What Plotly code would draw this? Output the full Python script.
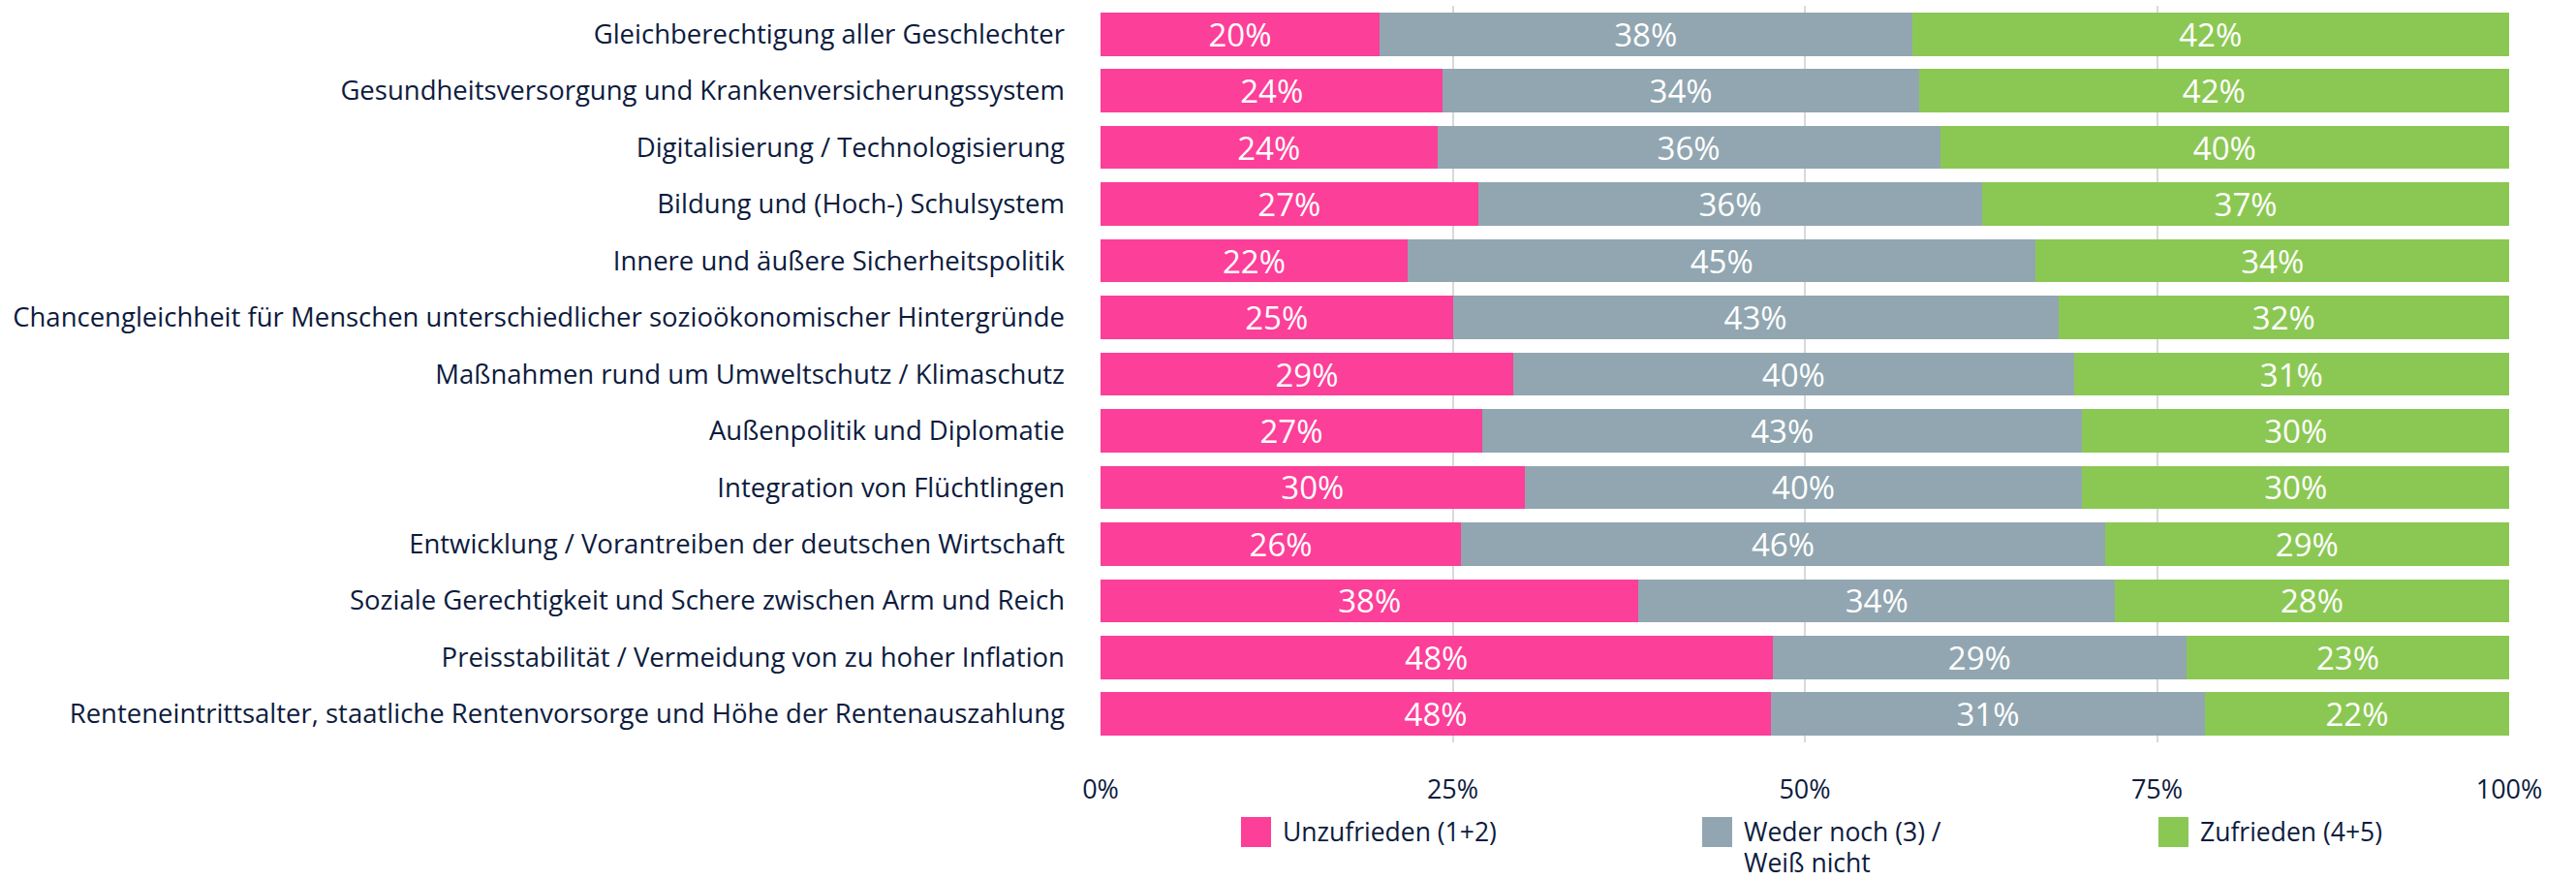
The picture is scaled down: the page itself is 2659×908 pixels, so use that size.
import plotly.graph_objects as go

categories = [
    "Gleichberechtigung aller Geschlechter",
    "Gesundheitsversorgung und Krankenversicherungssystem",
    "Digitalisierung / Technologisierung",
    "Bildung und (Hoch-) Schulsystem",
    "Innere und äußere Sicherheitspolitik",
    "Chancengleichheit für Menschen unterschiedlicher sozioökonomischer Hintergründe",
    "Maßnahmen rund um Umweltschutz / Klimaschutz",
    "Außenpolitik und Diplomatie",
    "Integration von Flüchtlingen",
    "Entwicklung / Vorantreiben der deutschen Wirtschaft",
    "Soziale Gerechtigkeit und Schere zwischen Arm und Reich",
    "Preisstabilität / Vermeidung von zu hoher Inflation",
    "Renteneintrittsalter, staatliche Rentenvorsorge und Höhe der Rentenauszahlung",
]
unzufrieden = [19.8, 24.3, 23.9, 26.8, 21.8, 25.0, 29.3, 27.1, 30.1, 25.6, 38.2, 47.7, 47.6]
weder = [37.8, 33.8, 35.7, 35.8, 44.6, 43.0, 39.8, 42.6, 39.6, 45.7, 33.8, 29.4, 30.8]
zufrieden = [42.4, 41.9, 40.4, 37.4, 33.6, 32.0, 30.9, 30.3, 30.3, 28.7, 28.0, 22.9, 21.6]

series_names = ["Unzufrieden (1+2)", "Weder noch (3) /", "Zufrieden (4+5)"]
legend_second_lines = ["", "Weiß nicht", ""]
series_values = [unzufrieden, weder, zufrieden]
colors = ["#FC3F98", "#91A6B1", "#8BC853"]
x_ticks = [0, 25, 50, 75, 100]
x_tick_labels = ["0%", "25%", "50%", "75%", "100%"]

FONT = "Open Sans"
TEXT = "#0D1B3E"
W, H = 2659, 908
L, R, T, B = 1136, 69, 6, 142
PW, PH = W - L - R, H - T - B

fig = go.Figure()
for name, line2, vals, col in zip(series_names, legend_second_lines, series_values, colors):
    fig.add_trace(go.Bar(
        y=categories, x=vals, name=(name + " " + line2).strip(), orientation="h",
        marker=dict(color=col, line=dict(width=0)),
        texttemplate="%{x:.0f}%", textposition="inside",
        insidetextanchor="middle", textangle=0, constraintext="none",
        insidetextfont=dict(family=FONT, size=33, color="white"),
        showlegend=False, hoverinfo="skip",
    ))

def px_x(px):
    return (px - L) / PW

def px_y(py):
    return (H - B - py) / PH

legend_x = [1281, 1757, 2228]
shapes = []
annotations = []
for name, line2, col, lx in zip(series_names, legend_second_lines, colors, legend_x):
    shapes.append(dict(type="rect", xref="paper", yref="paper",
                       x0=px_x(lx), x1=px_x(lx + 31), y0=px_y(843), y1=px_y(874),
                       fillcolor=col, line=dict(width=0)))
    annotations.append(dict(xref="paper", yref="paper", x=px_x(lx + 42), y=px_y(858),
                            xanchor="left", yanchor="middle", align="left",
                            text=name, showarrow=False, borderpad=0,
                            font=dict(family=FONT, size=26.5, color=TEXT)))
    if line2:
        annotations.append(dict(xref="paper", yref="paper", x=px_x(lx + 42), y=px_y(890),
                                xanchor="left", yanchor="middle", align="left",
                                text=line2, showarrow=False, borderpad=0,
                                font=dict(family=FONT, size=26.5, color=TEXT)))

fig.update_layout(
    width=W, height=H,
    margin=dict(l=L, r=R, t=T, b=B, autoexpand=False),
    barmode="stack", bargap=0.236,
    plot_bgcolor="white", paper_bgcolor="white",
    font=dict(family=FONT, size=27, color=TEXT),
    shapes=shapes, annotations=annotations,
    xaxis=dict(range=[0, 100], tickvals=x_ticks, ticktext=x_tick_labels,
               showgrid=True, gridcolor="#D9D9D9", gridwidth=2,
               zeroline=False, showline=False, ticks="",
               ticklabelstandoff=30,
               tickfont=dict(family=FONT, size=27, color=TEXT), fixedrange=True),
    yaxis=dict(autorange="reversed", showgrid=False, zeroline=False, showline=False,
               ticks="", ticklabelstandoff=36, automargin=False,
               tickfont=dict(family=FONT, size=27.5, color=TEXT)),
)

fig.write_html("out.html", config={"displayModeBar": False},
               post_script="document.body.style.margin='0';document.body.style.overflow='hidden';")
